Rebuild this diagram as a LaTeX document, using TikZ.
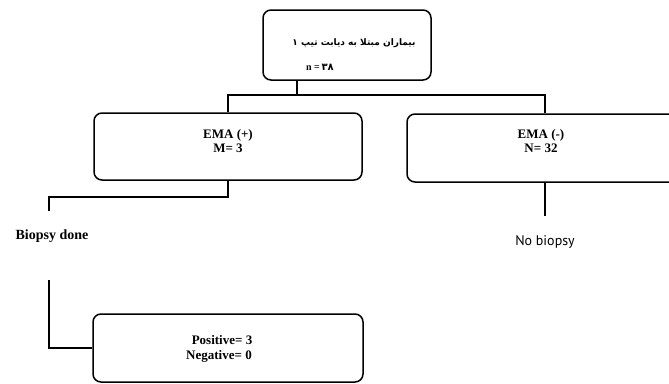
\documentclass[tikz,border=0pt]{standalone}
\usepackage{fontspec}
\setmainfont{Liberation Serif}
\newfontfamily\arabicfont[Script=Arabic]{DejaVu Sans}
\newfontfamily\nbfont{PT Sans}
\TeXXeTstate=1
\begin{document}
\begin{tikzpicture}[x=1pt,y=-1pt,
  box/.style={draw, line width=1.5pt, rounded corners=8pt, inner sep=0pt},
  conn/.style={line width=2.2pt},
  lbl/.style={inner sep=0pt, font=\fontsize{12}{13}\selectfont, align=center}]
\useasboundingbox (0,0) rectangle (669,383);
\clip (0,0) rectangle (669,383);
% boxes
\node[box, minimum width=168pt, minimum height=70pt] (top) at (347,45) {};
\node[box, minimum width=268pt, minimum height=67pt] (lbox) at (228,146.5) {};
\node[box, minimum width=276pt, minimum height=68pt] (rbox) at (545,148) {};
\node[box, minimum width=270pt, minimum height=68pt] (pbox) at (228,348) {};
% texts
\node[lbl, font=\arabicfont\bfseries\fontsize{9}{11}\selectfont] (t1) at (354,43) {\beginR بیماران مبتلا به دیابت تیپ ۱\endR};
\node[lbl, font=\bfseries\fontsize{10}{12}\selectfont] (t2) at (320,67) {n =\,{\arabicfont ۳۸}};
\node[lbl, font=\bfseries\fontsize{13}{14}\selectfont] (e1) at (228,135) {EMA (+)};
\node[lbl, font=\bfseries\fontsize{13}{14}\selectfont] (m1) at (228,148) {M= 3};
\node[lbl, font=\bfseries\fontsize{13}{14}\selectfont] (e2) at (541,135) {EMA (-)};
\node[lbl, font=\bfseries\fontsize{13}{14}\selectfont] (n2) at (541,148) {N= 32};
\node[lbl, font=\bfseries\fontsize{14}{15}\selectfont] (bd) at (52,236) {Biopsy done};
\node[lbl, font=\nbfont\fontsize{14}{15}\selectfont] (nb) at (545,242) {No biopsy};
\node[lbl, font=\bfseries\fontsize{13}{14}\selectfont] (pos) at (222,340) {Positive= 3};
\node[lbl, font=\bfseries\fontsize{13}{14}\selectfont] (neg) at (219,356) {Negative= 0};
% connectors
\coordinate (j) at (297,95);
\coordinate (b1) at (49,211);
\coordinate (b2) at (49,280);
\draw[conn] (top.south -| j) -- (j);
\draw[conn] (lbox.north) -- (lbox.north |- j) -- (rbox.north |- j) -- (rbox.north);
\draw[conn] (lbox.south) -- ++(0,16) -| (b1);
\draw[conn] (b2) |- (pbox.west);
\draw[conn] (rbox.south) -- ++(0,33) coordinate (nbend);
\end{tikzpicture}
\end{document}
